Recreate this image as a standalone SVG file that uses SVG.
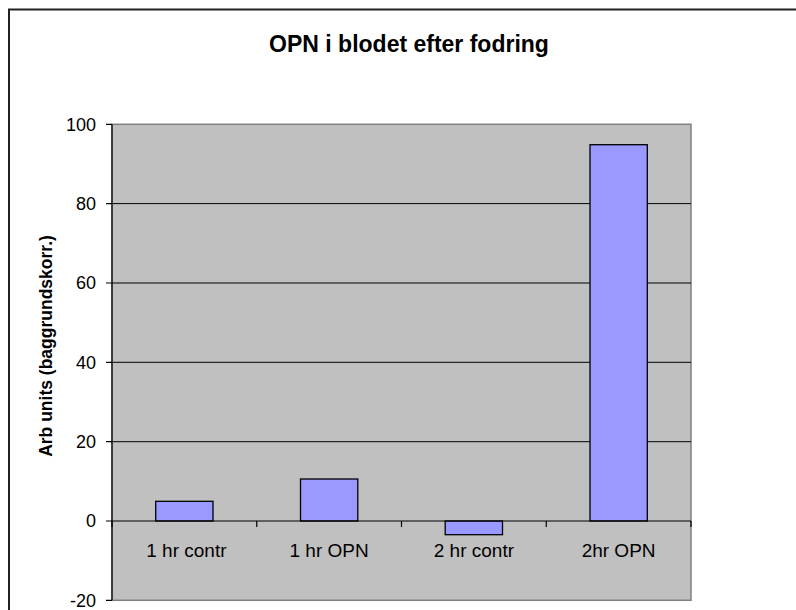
<svg xmlns="http://www.w3.org/2000/svg" width="796" height="610" viewBox="0 0 796 610">
<style>
text{font-family:"Liberation Sans",Arial,sans-serif;fill:#000}
.title{font-size:23px;font-weight:bold}
.ytitle{font-size:17.5px;font-weight:bold}
.tick{font-size:18px;text-anchor:end}
.cat{font-size:19px;text-anchor:middle}
.grid{stroke:#000;stroke-width:1}
.axis{stroke:#000;stroke-width:1.2;fill:none}
.bar{fill:#9999FF;stroke:#000;stroke-width:1.3}
</style>
<rect x="0" y="0" width="796" height="610" fill="#fff"/>
<rect id="frame" x="9" y="9.5" width="820" height="640" fill="none" stroke="#222" stroke-width="2"/>
<text id="title" class="title" x="409" y="52" text-anchor="middle">OPN i blodet efter fodring</text>
<g id="plot">
<rect x="112" y="124.3" width="579" height="476" fill="#C0C0C0" stroke="#808080" stroke-width="1.5"/>
<line class="grid" x1="112" y1="203.6" x2="691" y2="203.6"/>
<line class="grid" x1="112" y1="283" x2="691" y2="283"/>
<line class="grid" x1="112" y1="362.3" x2="691" y2="362.3"/>
<line class="grid" x1="112" y1="441.7" x2="691" y2="441.7"/>
</g>
<g id="bars">
<rect id="bar1" class="bar" x="155.7" y="501.3" width="57.3" height="19.7"/>
<rect id="bar2" class="bar" x="300.5" y="479" width="57.3" height="42"/>
<rect id="bar3" class="bar" x="445.2" y="521" width="57.3" height="13.7"/>
<rect id="bar4" class="bar" x="590" y="144.7" width="57.3" height="376.3"/>
</g>
<g id="axes">
<line class="axis" x1="112" y1="124.3" x2="112" y2="600.3"/>
<line class="axis" x1="112" y1="521" x2="691" y2="521"/>
<path class="axis" d="M106 124.3H112M106 203.6H112M106 283H112M106 362.3H112M106 441.7H112M106 521H112M106 600.3H112"/>
<path class="axis" d="M112 521V527M256.75 521V527M401.5 521V527M546.25 521V527M691 521V527"/>
</g>
<g id="ylabels">
<text class="tick" x="96" y="130.6">100</text>
<text class="tick" x="96" y="209.9">80</text>
<text class="tick" x="96" y="289.3">60</text>
<text class="tick" x="96" y="368.6">40</text>
<text class="tick" x="96" y="448">20</text>
<text class="tick" x="96" y="527.3">0</text>
<text class="tick" x="96" y="606.6">-20</text>
</g>
<g id="xlabels">
<text class="cat" x="186.4" y="556.5">1 hr contr</text>
<text class="cat" x="329.1" y="556.5">1 hr OPN</text>
<text class="cat" x="473.9" y="556.5">2 hr contr</text>
<text class="cat" x="618.6" y="556.5">2hr OPN</text>
</g>
<text id="ytitle" class="ytitle" transform="translate(52,346) rotate(-90)" text-anchor="middle">Arb units (baggrundskorr.)</text>
</svg>
